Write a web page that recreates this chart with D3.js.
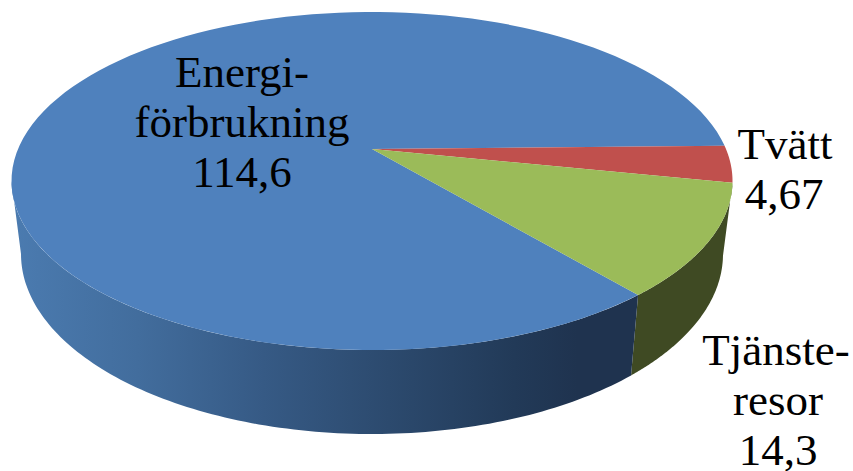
<!DOCTYPE html>
<html>
<head>
<meta charset="utf-8">
<script src="https://cdn.jsdelivr.net/npm/d3@7"></script>
<style>html,body{margin:0;padding:0;background:#fff}svg{display:block}text{font-family:"Liberation Serif",serif;fill:#000}</style>
</head>
<body>
<svg id="c" width="853" height="471"></svg>
<script>
const categories = ["Energiförbrukning", "Tvätt", "Tjänsteresor"];
const values = [114.6, 4.67, 14.3];
const valueLabels = ["114,6", "4,67", "14,3"];
const nameLines = [["Energi-", "förbrukning"], ["Tvätt"], ["Tjänste-", "resor"]];
const topColors = ["#4f81bd", "#c0504d", "#9bbb59"];

const labelX = [242, 785, 778];
const labelY = [87, 159, 365];
const labelDx = [[0, 0, 0], [0, -1], [-2, 0, 0]];
const lineStep = 50;
const fontSize = 45;

const svg = d3.select("#c");
const rad = Math.PI / 180;
const k = 0.189;

// Perspective mapping of a disc: angle (d3 pie convention, clockwise from up) -> screen
function projector(cx, cy, rx, ry) {
  const S0 = 2 * ry / (1 / (1 - k) + 1 / (1 + k));
  const Y0 = cy + ry - S0 / (1 - k);
  const R = rx * Math.sqrt(1 - k * k);
  return a => {
    const m = a - Math.PI / 2, c = Math.cos(m), s = Math.sin(m), w = 1 - k * s;
    return [cx + R * c / w, Y0 + S0 * s / w];
  };
}
const topP = projector(372, 181, 360.5, 169);
const botP = projector(372, 254, 351, 180);
const apex = [372, topP(Math.PI / 2)[1]];

const pie = d3.pie().sort(null).value(d => d)
  .startAngle(140 * rad).endAngle(500 * rad);
const arcs = pie(values);

const samples = (a0, a1) => d3.range(0, 121).map(i => a0 + (a1 - a0) * i / 120);
const line = d3.line();

const defs = svg.append("defs");
const grad = defs.append("linearGradient").attr("id", "wallBlue")
  .attr("gradientUnits", "userSpaceOnUse").attr("x1", 12).attr("x2", 640).attr("y1", 0).attr("y2", 0);
[[0, "#4b7bb0"], [0.2, "#426d9d"], [0.4, "#365a85"], [0.6, "#2c4a6e"], [0.8, "#223a58"], [0.9, "#1f334f"], [1, "#1f334f"]]
  .forEach(([o, col]) => grad.append("stop").attr("offset", o).attr("stop-color", col));

// side walls, visible front part only
const leftLimit = Math.PI / 2 + Math.PI - Math.asin(k);
const rightLimit = Math.PI / 2 + Math.asin(k);
function wall(a0, a1, fill) {
  const t = samples(a0, a1);
  const pts = t.map(topP).concat(t.slice().reverse().map(botP));
  svg.append("path").attr("d", line(pts) + "Z").attr("fill", fill);
}
const greenArc = arcs[2], blueArc = arcs[0];
wall(Math.max(greenArc.startAngle, rightLimit), greenArc.endAngle, "#3f4a23");
wall(blueArc.startAngle, leftLimit, "url(#wallBlue)");

// top face
arcs.forEach((d, i) => {
  const pts = [apex].concat(samples(d.startAngle, d.endAngle).map(topP));
  svg.append("path").attr("d", line(pts) + "Z").attr("fill", topColors[i]);
});

// labels
nameLines.forEach((lines, i) => {
  const all = lines.concat([valueLabels[i]]);
  svg.append("text").attr("text-anchor", "middle").attr("font-size", fontSize)
    .selectAll("tspan").data(all).join("tspan")
    .attr("x", (d, j) => labelX[i] + labelDx[i][j])
    .attr("y", (d, j) => labelY[i] + j * lineStep)
    .text(d => d);
});
</script>
</body>
</html>
